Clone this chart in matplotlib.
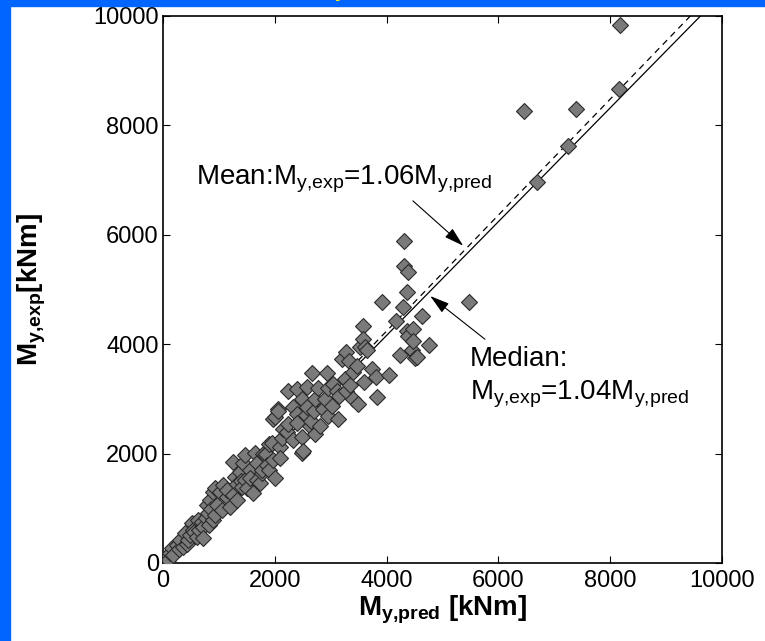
import matplotlib.pyplot as plt
from matplotlib.patches import Rectangle

plt.rcParams['font.family'] = 'Liberation Sans'
plt.rcParams['mathtext.fontset'] = 'custom'
plt.rcParams['mathtext.rm'] = 'Liberation Sans'
plt.rcParams['mathtext.bf'] = 'Liberation Sans:bold'

# predicted vs. measured yield moments [kNm]
m_pred = [0, 36, 90, 125, 161, 180, 250, 280, 304, 358, 394, 430, 447, 480, 519,
          537, 560, 608, 626, 650, 700, 716, 716, 760, 787, 805, 820, 841, 860,
          895, 895, 930, 930, 966,
          1020, 1056, 1073, 1145, 1150, 1199, 1252, 1260, 1288, 1324, 1330,
          1378, 1400, 1413, 1431, 1467, 1467, 1500, 1556, 1560, 1610, 1646,
          1680, 1682, 1735, 1771, 1771, 1789, 1825, 1850, 1860, 1890, 1900,
          1950, 1968, 1968, 2004, 2004, 2057, 2057, 2093, 2093, 2120, 2150,
          2218, 2236, 2236, 2326, 2326, 2397, 2397, 2400, 2487, 2487, 2487,
          2505, 2550, 2576, 2580, 2630, 2650, 2666, 2700, 2719, 2719, 2773,
          2800, 2862, 2900, 2934, 2952, 2952, 3023, 3041, 3113, 3131,
          3150, 3202, 3256, 3274, 3274, 3328, 3350, 3399, 3399, 3471, 3489,
          3524, 3578, 3578, 3596, 3614, 3650, 3739, 3811, 3829, 3918, 4043,
          4168, 4240, 4294, 4311, 4311, 4365, 4365, 4383, 4383, 4455, 4473,
          4473, 4508, 4544, 4634, 4759, 5474,
          6458, 6691, 7245, 7389, 8158, 8176]
m_exp = [18, 92, 60, 184, 275, 140, 330, 250, 422, 294, 551, 350, 422, 520, 734,
         606, 560, 477, 789, 600, 750, 661, 459, 820, 1064, 917, 700, 1156, 980,
         789, 1303, 880, 1376, 1064,
         1303, 973, 1431, 1211, 1330, 1028, 1853, 1250, 1578, 1156, 1440,
         1670, 1500, 1395, 1835, 1982, 1523, 1380, 1707, 1560, 1285, 2019,
         1520, 1835, 1468, 1652, 1707, 2000, 1982, 2000, 1798, 2180, 1700,
         2202, 1890, 2624, 1560, 2661, 2808, 2771, 2129, 1927, 2280, 2450,
         2386, 2532, 3138, 2257, 2844, 2716, 3175, 2550, 2312, 2991, 2019,
         2050, 2700, 3211, 2850, 2496, 2600, 3468, 2780, 2349, 2991, 3193,
         2500, 2808, 3000, 3468, 3193, 2679, 2863, 3266, 3138, 2624,
         3050, 3725, 3358, 3853, 3138, 3689, 3250, 3487, 2991, 3597, 2899,
         3945, 4331, 4092, 3303, 3945, 3890, 3542, 3395, 3028, 4771, 3432,
         4420, 3800, 4679, 5890, 5432, 4955, 4239, 5322, 4147, 3890, 4276,
         4055, 3743, 3762, 4514, 3982, 4771,
         8258, 6973, 7615, 8294, 8661, 9836]

fit_x = [0, 10000]
mean_ratio = 1.06
median_ratio = 1.04

fig = plt.figure(figsize=(7.65, 6.41), dpi=100)
ax = fig.add_axes([0.2131, 0.1217, 0.7307, 0.8534])

ax.plot(m_pred, m_exp, 'D', markersize=8.5, markerfacecolor='#7a7a7a',
        markeredgecolor='#2a2a2a', markeredgewidth=0.8, zorder=3)
ax.plot(fit_x, [mean_ratio * v for v in fit_x], 'k--', linewidth=0.9, dashes=(5, 4))
ax.plot(fit_x, [median_ratio * v for v in fit_x], 'k-', linewidth=0.9)

ax.set_xlim(0, 10000)
ax.set_ylim(0, 10000)
ax.set_xticks([0, 2000, 4000, 6000, 8000, 10000])
ax.set_yticks([0, 2000, 4000, 6000, 8000, 10000])
ax.tick_params(direction='in', length=5, width=0.8, top=True, right=True,
               labelsize=17)
ax.tick_params(axis='x', pad=5)
ax.tick_params(axis='y', pad=3)
for sp in ax.spines.values():
    sp.set_linewidth(1.2)

ax.set_xlabel(r'$\mathbf{M_{y{,}pred}}$ [kNm]', fontsize=20, fontweight='bold',
              labelpad=1)
ax.set_ylabel(r'$\mathbf{M_{y{,}exp}}$[kNm]', fontsize=20, fontweight='bold')
ax.yaxis.set_label_coords(-0.205, 0.5)

arrow = dict(arrowstyle='-|>,head_length=1.2,head_width=0.35', color='black',
             linewidth=0.8, shrinkA=0, shrinkB=0)
ax.annotate('', xy=(5370, 5800), xytext=(4470, 6620), arrowprops=arrow)
ax.annotate('', xy=(4780, 4880), xytext=(5760, 4090), arrowprops=arrow)

ax.text(590, 6930, r'Mean:M$_{\rm y{,}exp}$=1.06M$_{\rm y{,}pred}$', fontsize=20,
        va='baseline')
ax.text(5490, 3600, 'Median:', fontsize=20, va='baseline')
ax.text(5490, 3000, r'M$_{\rm y{,}exp}$=1.04M$_{\rm y{,}pred}$', fontsize=20,
        va='baseline')

# blue frame along the left and top edges
fig.patches.append(Rectangle((0, 0), 10 / 765, 1, transform=fig.transFigure,
                             color='#0066ff', zorder=0))
fig.patches.append(Rectangle((0, 1 - 6 / 641), 1, 6 / 641, transform=fig.transFigure,
                             color='#0066ff', zorder=0))
fig.text(335 / 765, 1 + 3 / 641, 'y', color='yellow', fontsize=14,
         fontweight='bold', va='baseline')

fig.savefig('out.png', dpi=100)
